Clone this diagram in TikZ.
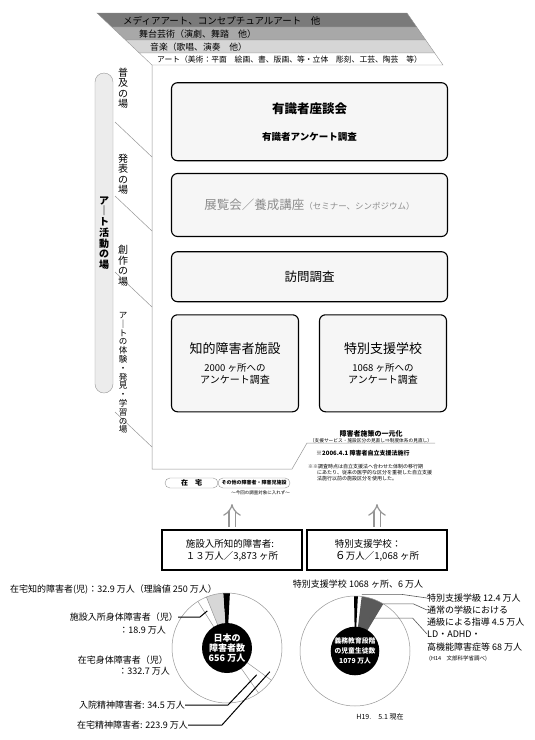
\documentclass[tikz,border=0pt]{standalone}
\usepackage{fontspec}
\setmainfont{Noto Sans CJK JP}
\usepackage{tikz}
\usetikzlibrary{arrows.meta, positioning, calc}
\definecolor{banddark}{RGB}{122,122,122}
\definecolor{bandmid}{RGB}{168,168,168}
\definecolor{bandlight}{RGB}{214,214,214}
\definecolor{panelfill}{RGB}{246,246,246}
\definecolor{pillfill}{RGB}{236,236,236}
\definecolor{softgray}{RGB}{140,140,140}
\definecolor{linegray}{RGB}{150,150,150}
\definecolor{wedgegray}{RGB}{215,215,215}
\definecolor{wedgedark}{RGB}{90,90,90}

\begin{document}
\begin{tikzpicture}[
    x=1pt, y=-1pt,
    band/.style={draw=linegray, line width=0.4pt},
    bandtext/.style={anchor=west, inner sep=0pt},
    tate/.style={align=center, inner sep=0pt, font=\fontsize{10}{10.5}\selectfont},
    sideline/.style={draw=linegray, line width=0.5pt},
    panel/.style={rectangle, draw=black, line width=1.1pt, fill=panelfill,
                 rounded corners=6pt, align=center, minimum width=276},
    smallpanel/.style={panel, minimum width=127, minimum height=97},
    zpill/.style={rectangle, draw=linegray, rounded corners=5pt, minimum height=10, inner sep=1pt},
    countbox/.style={rectangle, draw=black, line width=2.2pt, minimum width=140,
                 minimum height=40, align=left, font=\fontsize{9.5}{12}\selectfont},
    hollowup/.style={draw=linegray, line width=1.2pt, double=white, double distance=5pt, -{Implies}},
    hub/.style={circle, fill=black, text=white, align=center, inner sep=0pt},
    lbl/.style={inner sep=0pt, font=\fontsize{9}{10}\selectfont},
    leader/.style={draw=black, line width=1pt},
    thinleader/.style={draw=black!65, line width=0.6pt}
]
\path[use as bounding box, fill=white] (0,0) rectangle (535,740);

\foreach \ya/\yb/\xa/\xb/\xc/\xd/\col in {
    13/27/97/111.8/407/416.7/banddark,
    27/40/111.8/125.6/416.7/425.7/bandmid,
    40/53/125.6/139.3/425.7/434.7/bandlight,
    53/65/139.3/152/434.7/443/white}
  \filldraw[band, fill=\col] (\xa,\ya) -- (\xc,\ya) -- (\xd,\yb) -- (\xb,\yb) -- cycle;

\node[bandtext, font=\fontsize{9.5}{10}\selectfont] (media) at (123,20.5) {メディアアート、コンセプチュアルアート　他};
\node[bandtext, font=\fontsize{9}{10}\selectfont] (stage) at (139,34) {舞台芸術（演劇、舞踏　他）};
\node[bandtext, font=\fontsize{8.8}{10}\selectfont] (music) at (150,46.7) {音楽（歌唱、演奏　他）};
\node[bandtext, font=\fontsize{7.8}{9}\selectfont] (fineart) at (157,59.3) {アート（美術：平面　絵画、書、版画、等・立体　彫刻、工芸、陶芸　等）};

\draw[sideline] (152,65) -- (152,469) -- (292,469) -- (307,443) -- (435,443);
\foreach \ya in {122,196,272,412}
  \draw[sideline] (115,\ya) -- ++(37,35);

\node[rectangle, draw=linegray, fill=pillfill, rounded corners=9pt, minimum width=18, minimum height=320,
      inner sep=0pt, align=center, font=\bfseries\fontsize{10}{10.7}\selectfont] (artfield) at (104,233) {ア\\｜\\ト\\活\\動\\の\\場};

\node[tate] (spread) at (123,88) {普\\及\\の\\場};
\node[tate] (present) at (123,174) {発\\表\\の\\場};
\node[tate] (create) at (123,266) {創\\作\\の\\場};
\node[tate, font=\fontsize{8.5}{8.8}\selectfont] (learn) at (123,373) {ア\\｜\\ト\\の\\体\\験\\・\\発\\見\\・\\学\\習\\の\\場};

\node[panel, minimum height=78] (roundtable) at (309.5,121.7)
    {\fontsize{12.5}{15}\selectfont\bfseries 有識者座談会\\[15pt]\fontsize{9.5}{15}\selectfont\bfseries 有識者アンケート調査};
\node[panel, minimum height=63, text=softgray] (exhibit) at (309.5,205)
    {{\fontsize{12.5}{15}\selectfont 展覧会／養成講座}{\fontsize{8.5}{15}\selectfont（セミナー、シンポジウム）}};
\node[panel, minimum height=50, font=\fontsize{12.5}{15}\selectfont] (visit) at (309.5,276.7) {訪問調査};
\node[smallpanel] (facility) at (235,363.3)
    {\fontsize{13}{11}\selectfont 知的障害者施設\\[6pt]\fontsize{9.5}{11}\selectfont 2000 ヶ所への\\アンケート調査};
\node[smallpanel] (school) at (383,363.3)
    {\fontsize{13}{11}\selectfont 特別支援学校\\[6pt]\fontsize{9.5}{11}\selectfont 1068 ヶ所への\\アンケート調査};

\node[inner sep=0pt, font=\bfseries\fontsize{7}{8}\selectfont] (policy) at (371,434) {障害者施策の一元化};
\node[inner sep=0pt, font=\fontsize{4.7}{5}\selectfont] (policysub) at (371,440.3) {（支援サービス・施設区分の見直し⇒制度体系の見直し）};
\node[anchor=west, inner sep=0pt, font=\bfseries\fontsize{6}{7}\selectfont] (lawdate) at (316,453) {※2006.4.1 障害者自立支援法施行};
\node[anchor=north west, inner sep=0pt, align=left, font=\fontsize{5}{5.8}\selectfont] (footnote) at (308,464.5)
    {※※調査時点は自立支援法へ合わせた体制の移行期\\\hspace*{1.8em}にあたり、従来の医学的な区分を重視した自立支援\\\hspace*{1.8em}法施行以前の施設区分を使用した。};

\node[zpill, minimum width=53, font=\bfseries\fontsize{7}{8}\selectfont] (home) at (191.5,483) {在　宅};
\node[zpill, minimum width=72, font=\bfseries\fontsize{5}{6}\selectfont] (otherfac) at (254,483) {その他の障害者・障害児施設};
\node[anchor=east, inner sep=0pt, font=\fontsize{4.5}{5}\selectfont] (excluded) at (290,493) {～今回の調査対象に入れず～};

\node[countbox] (instcount) at (232,550) {施設入所知的障害者:\\１３万人／3,873 ヶ所};
\node[countbox] (schoolcount) at (377,550) {特別支援学校：\\{\fontsize{11}{12}\selectfont ６}万人／1,068 ヶ所};

\coordinate (instup) at (232,504);
\coordinate (schoolup) at (377,504);
\draw[hollowup, shorten <=2pt] (instcount.north) -- (instup);
\draw[hollowup, shorten <=2pt] (schoolcount.north) -- (schoolup);

\begin{scope}[shift={(227,648)}, y=1pt]
  \fill[black] (0,0) -- (87:55) arc[start angle=87, end angle=94, radius=55] -- cycle;
  \fill[wedgegray] (0,0) -- (94:55) arc[start angle=94, end angle=112, radius=55] -- cycle;
  \draw[linegray, line width=0.5pt] (0,0) circle[radius=55];
  \foreach \a in {112,122,305,324}
    \draw[linegray, line width=0.5pt] (\a:25) -- (\a:55);
  \node[hub, minimum size=50, font=\bfseries\fontsize{9}{10}\selectfont] (japanhub) at (0,0) {日本の\\障害者数\\656 万人};
  \coordinate (injap) at (118:42);
  \coordinate (hospjap) at (318:40);
  \coordinate (homejap) at (331:49);
\end{scope}

\node[lbl, anchor=west] (homeint) at (10,590) {在宅知的障害者(児)：32.9 万人（理論値 250 万人）};
\node[lbl, anchor=east] (instbody) at (178,617) {施設入所身体障害者（児）};
\node[lbl, anchor=east] (instbodyval) at (166,630) {：18.9 万人};
\node[lbl, anchor=east] (homebody) at (168,660) {在宅身体障害者（児）};
\node[lbl, anchor=east] (homebodyval) at (170,671) {：332.7 万人};
\node[lbl, anchor=east] (hospmental) at (185,705) {入院精神障害者: 34.5 万人};
\node[lbl, anchor=east] (homemental) at (188,725) {在宅精神障害者: 223.9 万人};

\draw[leader] (instbody.east) -- ++(22,0) -- (injap);
\draw[leader] (hospmental.east) -- ++(43,0) -- (hospjap);
\draw[leader] (homemental.east) -- ++(34,0) -- (homejap);

\begin{scope}[shift={(355,651)}, y=1pt]
  \fill[black] (0,0) -- (87:55) arc[start angle=87, end angle=91, radius=55] -- cycle;
  \fill[wedgedark] (0,0) -- (59:55) arc[start angle=59, end angle=83, radius=55] -- cycle;
  \draw[linegray, line width=0.5pt] (0,0) circle[radius=55];
  \node[hub, minimum size=46, font=\bfseries\fontsize{6.8}{10}\selectfont] (pupilhub) at (0,0) {義務教育段階\\の児童生徒数\\1079 万人};
  \coordinate (classsp) at (83:57);
  \coordinate (classtsu) at (59:55);
  \coordinate (classld) at (66:36);
\end{scope}

\node[lbl] (schooltotal) at (358,584) {特別支援学校 1068 ヶ所、6 万人};
\node[lbl, anchor=west] (speclass) at (427,598) {特別支援学級 12.4 万人};
\node[lbl, anchor=west] (regclass) at (427,610) {通常の学級における};
\node[lbl, anchor=west] (regclassval) at (427,622) {通級による指導 4.5 万人};
\node[lbl, anchor=west] (ldlabel) at (427,634) {LD・ADHD・};
\node[lbl, anchor=west] (hfalabel) at (427,647) {高機能障害症等 68 万人};
\node[lbl, anchor=west, font=\fontsize{5.5}{6}\selectfont] (survey) at (429,659) {(H14　文部科学省調べ)};
\node[lbl, font=\fontsize{7}{8}\selectfont] (asof) at (380,717) {H19.　5.1 現在};

\draw[thinleader] (classsp) -- ++(40,0) -- (speclass.west);
\draw[thinleader] (classtsu) -- ++(30,0) -- (regclass.west);
\draw[thinleader] (classld) -- ++(43,0) -- (ldlabel.west);
\end{tikzpicture}
\end{document}
